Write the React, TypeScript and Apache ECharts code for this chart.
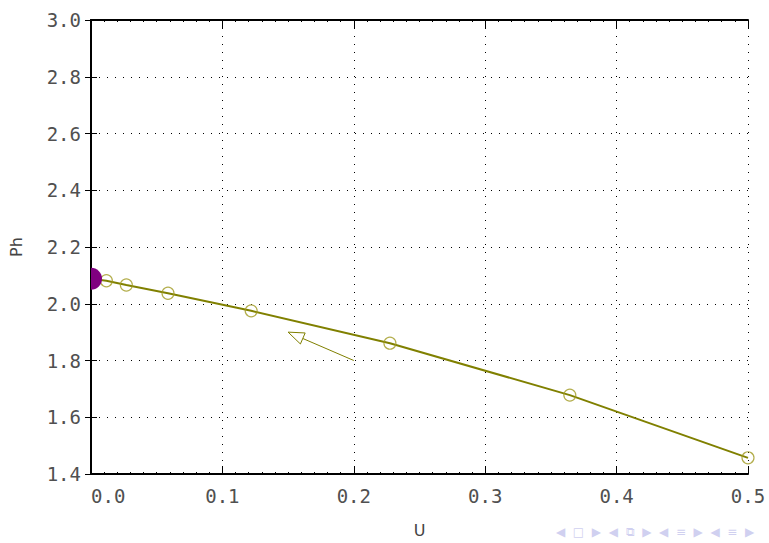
import React, { useEffect, useRef } from "react";
import * as echarts from "echarts";

const uValues = [0, 0.0117, 0.0269, 0.0586, 0.1219, 0.2275, 0.3644, 0.5];
const phValues = [2.088, 2.081, 2.066, 2.037, 1.975, 1.861, 1.678, 1.457];
const startPoint = [0, 2.088];
const arrowTail = [0.2, 1.8];
const arrowTip = [0.15, 1.9];
const xTicks = { min: 0, max: 0.5, interval: 0.1 };
const yTicks = { min: 1.4, max: 3.0, interval: 0.2 };

const OLIVE = "#808000";
const FONT = "DejaVu Sans";
const TICKFONT = "DejaVu Sans Mono";

export default function App() {
  const ref = useRef<HTMLDivElement>(null);
  useEffect(() => {
    if (!ref.current) return;
    const chart = echarts.init(ref.current, null, { renderer: "svg" });
    const linePts = uValues.map((u, i) => [u, phValues[i]]);
    const circlePts = linePts.slice(1);
    const gridDots = { show: true, lineStyle: { color: "#000", width: 1, type: [1, 7] as any } };
    const axisLine = { show: true, lineStyle: { color: "#000", width: 2 } };
    chart.setOption({
      animation: false,
      backgroundColor: "#fff",
      grid: { left: 90, right: 21, top: 20, bottom: 65, containLabel: false },
      xAxis: [
        {
          type: "value",
          min: xTicks.min,
          max: xTicks.max,
          interval: xTicks.interval,
          position: "bottom",
          name: "U",
          nameLocation: "middle",
          nameGap: 48,
          nameTextStyle: { fontFamily: FONT, fontSize: 16, color: "#444" },
          axisLine,
          axisTick: { show: true, inside: true, length: 8, lineStyle: { color: "#000" } },
          minorTick: { show: true, splitNumber: 10, length: 2, lineStyle: { color: "#000" } },
          splitLine: gridDots,
          axisLabel: {
            fontFamily: TICKFONT,
            fontSize: 19,
            color: "#505050",
            margin: 12,
            alignMinLabel: "left",
            formatter: (v: number) => v.toFixed(1),
          },
        },
        {
          type: "value",
          min: xTicks.min,
          max: xTicks.max,
          interval: xTicks.interval,
          position: "top",
          axisLine,
          axisTick: { show: true, inside: true, length: 8, lineStyle: { color: "#000" } },
          minorTick: { show: true, splitNumber: 10, length: 2, lineStyle: { color: "#000" } },
          splitLine: { show: false },
          axisLabel: { show: false },
        },
      ],
      yAxis: [
        {
          type: "value",
          min: yTicks.min,
          max: yTicks.max,
          interval: yTicks.interval,
          position: "left",
          name: "Ph",
          nameLocation: "middle",
          nameGap: 67,
          nameRotate: 90,
          nameTextStyle: { fontFamily: FONT, fontSize: 16, color: "#444" },
          axisLine,
          axisTick: { show: true, inside: true, length: 6, lineStyle: { color: "#000" } },
          splitLine: gridDots,
          axisLabel: {
            fontFamily: TICKFONT,
            fontSize: 19,
            color: "#505050",
            margin: 10,
            formatter: (v: number) => v.toFixed(1),
          },
        },
        {
          type: "value",
          min: yTicks.min,
          max: yTicks.max,
          interval: yTicks.interval,
          position: "right",
          axisLine,
          axisTick: { show: true, inside: true, length: 6, lineStyle: { color: "#000" } },
          splitLine: { show: false },
          axisLabel: { show: false },
        },
      ],
      series: [
        {
          type: "line",
          data: linePts,
          symbol: "none",
          lineStyle: { color: OLIVE, width: 2 },
          z: 3,
        },
        {
          type: "scatter",
          data: circlePts,
          symbol: "circle",
          symbolSize: 12,
          itemStyle: { color: "rgba(255,255,255,0)", borderColor: "#a09a20", borderWidth: 1.2 },
          z: 4,
        },
        {
          type: "custom",
          data: [startPoint],
          renderItem: (params: any, api: any) => {
            const p = api.coord([api.value(0), api.value(1)]);
            return {
              type: "sector",
              shape: { cx: p[0], cy: p[1], r: 11, r0: 0, startAngle: -Math.PI / 2, endAngle: Math.PI / 2 },
              style: { fill: "#800080" },
            };
          },
          z: 5,
        },
        {
          type: "custom",
          data: [[arrowTail[0], arrowTail[1], arrowTip[0], arrowTip[1]]],
          renderItem: (params: any, api: any) => {
            const t = api.coord([api.value(0), api.value(1)]);
            const h = api.coord([api.value(2), api.value(3)]);
            const dx = h[0] - t[0];
            const dy = h[1] - t[1];
            const len = Math.sqrt(dx * dx + dy * dy);
            const ux = dx / len;
            const uy = dy / len;
            const hl = 16;
            const hw = 6;
            const bx = h[0] - ux * hl;
            const by = h[1] - uy * hl;
            const px = -uy;
            const py = ux;
            return {
              type: "group",
              children: [
                {
                  type: "line",
                  shape: { x1: t[0], y1: t[1], x2: bx, y2: by },
                  style: { stroke: OLIVE, lineWidth: 1 },
                },
                {
                  type: "polygon",
                  shape: {
                    points: [
                      [h[0], h[1]],
                      [bx + px * hw, by + py * hw],
                      [bx - px * hw, by - py * hw],
                    ],
                  },
                  style: { stroke: OLIVE, fill: "#fff", lineWidth: 1 },
                },
              ],
            };
          },
          z: 4,
        },
      ],
      graphic: [
        {
          type: "text",
          left: 556,
          top: 526,
          style: {
            text: "◀  □  ▶  ◀  ⧉  ▶  ◀  ≡  ▶  ◀  ≡  ▶",
            fill: "#d0d0f0",
            font: "12px DejaVu Sans",
          },
        },
      ],
    });
    return () => chart.dispose();
  }, []);
  return (
    <div
      ref={ref}
      style={{ position: "absolute", left: 0, top: 0, width: 769, height: 543 }}
    />
  );
}
